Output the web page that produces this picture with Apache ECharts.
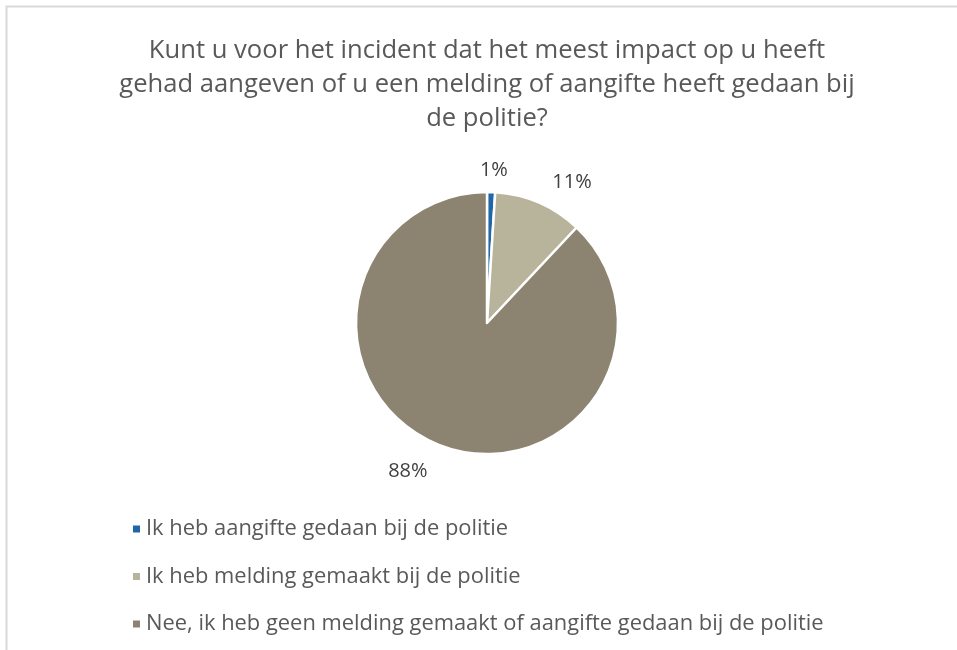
<!DOCTYPE html>
<html>
<head>
<meta charset="utf-8">
<script src="https://cdn.jsdelivr.net/npm/echarts@6/dist/echarts.min.js"></script>
<style>
html,body{margin:0;padding:0;background:#fff;overflow:hidden;width:957px;height:650px;}
#c{width:974px;height:650px;}
</style>
</head>
<body>
<div id="c"></div>
<script>
const titleText = 'Kunt u voor het incident dat het meest impact op u heeft\ngehad aangeven of u een melding of aangifte heeft gedaan bij\nde politie?';
const categories = [
  'Ik heb aangifte gedaan bij de politie',
  'Ik heb melding gemaakt bij de politie',
  'Nee, ik heb geen melding gemaakt of aangifte gedaan bij de politie'
];
const values = [1, 11, 88];
const colors = ['#1f67a8', '#b8b39b', '#8c8470'];

// small nudges of the data labels relative to ECharts' outside placement
const labelNudge = [[-17, 3], [-15, -7], [3, 3]];

const FONT = '"Open Sans", sans-serif';
const chart = echarts.init(document.getElementById('c'), null, {renderer: 'canvas'});
chart.setOption({
  backgroundColor: '#ffffff',
  animation: false,
  graphic: [{
    type: 'rect',
    shape: {x: 6.5, y: 6.5, width: 1000, height: 1000},
    style: {fill: 'none', stroke: '#d9d9d9', lineWidth: 2},
    silent: true, z: -10
  }],
  title: {
    text: titleText,
    left: 'center',
    top: 29,
    textStyle: {fontFamily: FONT, fontSize: 25.6, fontWeight: 'normal', color: '#595959', lineHeight: 34}
  },
  legend: {
    orient: 'vertical',
    left: 126,
    top: 510,
    icon: 'rect',
    itemWidth: 9,
    itemHeight: 9,
    itemGap: 19.5,
    data: categories,
    textStyle: {fontFamily: FONT, fontSize: 21.9, color: '#595959', lineHeight: 28}
  },
  series: [{
    type: 'pie',
    center: [487, 323],
    radius: [0, 131],
    startAngle: 90,
    clockwise: true,
    data: categories.map((n, i) => ({name: n, value: values[i], itemStyle: {color: colors[i]}})),
    itemStyle: {borderColor: '#ffffff', borderWidth: 2.5},
    label: {
      show: true,
      position: 'outside',
      formatter: p => p.value + '%',
      fontFamily: FONT,
      fontSize: 20,
      color: '#404040'
    },
    labelLine: {show: false, length: 25, length2: 0},
    labelLayout: p => ({dx: labelNudge[p.dataIndex][0], dy: labelNudge[p.dataIndex][1]}),
    emphasis: {disabled: true}
  }]
});
</script>
</body>
</html>
